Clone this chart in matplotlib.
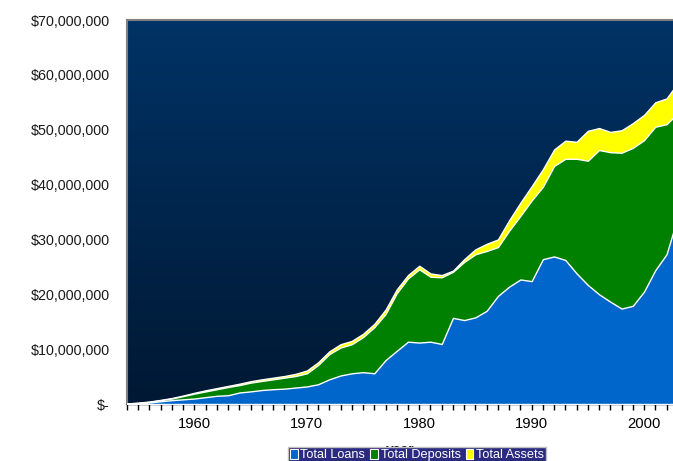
import matplotlib
matplotlib.use("Agg")
import matplotlib.pyplot as plt
import numpy as np
from matplotlib.ticker import FuncFormatter, FixedLocator
from matplotlib.patches import Patch
from matplotlib.colors import LinearSegmentedColormap

plt.rcParams['font.family'] = ['Liberation Sans', 'DejaVu Sans']

years = list(range(1954, 2004))
loans = [0.05, 0.15, 0.3, 0.5, 0.7, 0.85, 1.0, 1.25, 1.5, 1.6,
         2.1, 2.3, 2.55, 2.7, 2.8, 3.0, 3.2, 3.6, 4.5, 5.2,
         5.6, 5.8, 5.6, 8.0, 9.7, 11.36, 11.2, 11.36, 10.94, 15.7,
         15.3, 15.8, 17.0, 19.7, 21.4, 22.7, 22.4, 26.4, 26.9, 26.25,
         23.8, 21.7, 20.0, 18.65, 17.4, 17.9, 20.5, 24.4, 27.3, 34.1]
deposits = [0.1, 0.2, 0.4, 0.7, 1.0, 1.45, 1.9, 2.3, 2.7, 3.1,
            3.45, 3.9, 4.2, 4.5, 4.8, 5.1, 5.6, 7.1, 9.1, 10.3,
            10.9, 12.2, 14.0, 16.4, 20.2, 22.9, 24.55, 23.2, 23.1, 24.1,
            25.9, 27.3, 27.9, 28.6, 31.6, 34.3, 37.1, 39.6, 43.4, 44.7,
            44.7, 44.35, 46.3, 45.9, 45.8, 46.7, 48.1, 50.55, 51.0, 53.0]
assets = [0.1, 0.25, 0.45, 0.75, 1.1, 1.55, 2.05, 2.5, 2.9, 3.3,
          3.7, 4.15, 4.5, 4.8, 5.1, 5.5, 6.1, 7.6, 9.6, 10.9,
          11.5, 12.8, 14.6, 17.2, 20.9, 23.5, 25.2, 23.8, 23.5, 24.3,
          26.4, 28.2, 29.2, 30.0, 33.5, 36.7, 39.7, 42.8, 46.4, 48.0,
          47.8, 49.8, 50.3, 49.6, 49.9, 51.2, 52.7, 55.0, 55.7, 58.5]
series_names = ["Total Loans", "Total Deposits", "Total Assets"]
series_colors = ["#0066CC", "#008000", "#FFFF00"]
y_ticks = [0, 10, 20, 30, 40, 50, 60, 70]
x_labels = [1960, 1970, 1980, 1990, 2000]

W, H = 673, 461
fig = plt.figure(figsize=(W / 100, H / 100), dpi=100)
fig.patch.set_facecolor("white")
ax = fig.add_axes([127 / W, 1 - 404 / H, 1 - 127 / W, (404 - 20) / H])

# gradient background
grad = np.linspace(0, 1, 256).reshape(-1, 1)
cmap = LinearSegmentedColormap.from_list("bg", ["#003366", "#001833"])
ax.imshow(grad, extent=[0, 1, 0, 1], transform=ax.transAxes, cmap=cmap,
          aspect="auto", zorder=0, origin="upper")

yrs = np.array(years, dtype=float)
scale = 1e6
ax.fill_between(yrs, 0, np.array(assets) * scale, color=series_colors[2],
                edgecolor="white", linewidth=1.0, zorder=2)
ax.fill_between(yrs, 0, np.array(deposits) * scale, color=series_colors[1],
                edgecolor="white", linewidth=1.0, zorder=3)
ax.fill_between(yrs, 0, np.array(loans) * scale, color=series_colors[0],
                edgecolor="white", linewidth=1.0, zorder=4)

ax.set_xlim(1954, 1954 + (673 - 127) / 11.24)
ax.set_ylim(0, 70e6)

ax.yaxis.set_major_locator(FixedLocator([v * scale for v in y_ticks]))
ax.yaxis.set_major_formatter(FuncFormatter(
    lambda v, p: "$-" if v == 0 else "${:,.0f}".format(v)))
ax.tick_params(axis="y", length=0, pad=12.5, labelsize=10.3, colors="#1a1a1a")

ax.xaxis.set_major_locator(FixedLocator(years))
ax.xaxis.set_major_formatter(FuncFormatter(
    lambda v, p: str(int(round(v))) if int(round(v)) in x_labels else ""))
ax.tick_params(axis="x", length=4, width=1, direction="out", pad=5,
               labelsize=10.6, colors="black")

for s in ["left", "top"]:
    ax.spines[s].set_color("#808080")
    ax.spines[s].set_linewidth(1.5)
ax.spines["right"].set_visible(False)
ax.spines["bottom"].set_color("black")
ax.spines["bottom"].set_linewidth(1)
ax.set_xlabel("year", fontsize=10, fontweight="bold", labelpad=9)

handles = [Patch(facecolor=c, edgecolor="white", linewidth=0.8) for c in series_colors]
leg = fig.legend(handles, series_names, loc="center",
                 bbox_to_anchor=(417 / W, 1 - 455 / H), ncol=3,
                 frameon=True, fontsize=9.2, handlelength=0.6, handleheight=0.8,
                 handletextpad=0.2, columnspacing=0.4, borderpad=0.15,
                 fancybox=False, labelcolor="white")
leg.get_frame().set_facecolor("#2a2a80")
leg.get_frame().set_edgecolor("#c0c0c0")
leg.get_frame().set_alpha(1)

fig.savefig("out.png", dpi=100)
